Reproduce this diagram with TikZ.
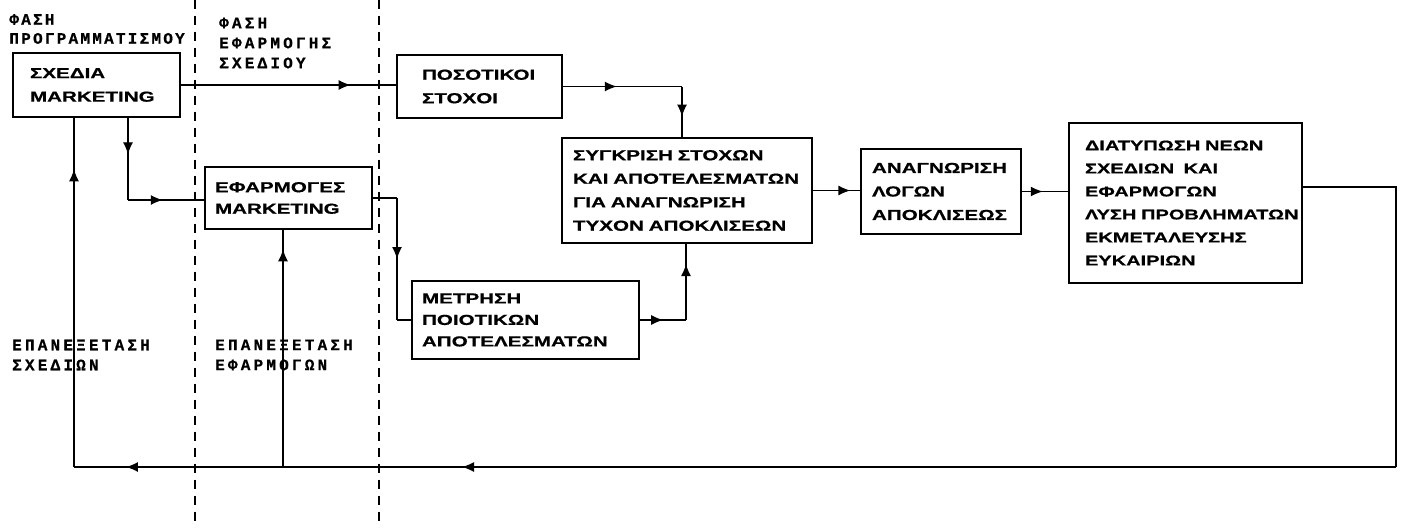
\documentclass[tikz,border=0pt]{standalone}
\usepackage{fontspec}
\usetikzlibrary{arrows.meta,decorations.markings}
\newfontfamily\bxf[FakeStretch=1.42,FakeBold=0.6]{Liberation Sans}
\newfontfamily\dotf[LetterSpace=20,FakeBold=0.5]{Liberation Mono}
\newfontfamily\dotfs[LetterSpace=14,FakeBold=0.5]{Liberation Mono}
\begin{document}
\begin{tikzpicture}[x=1pt,y=-1pt,
  box/.style={draw,line width=2.8pt,inner sep=0pt,align=left,
    font=\bxf\bfseries\fontsize{14.5}{23.5}\selectfont},
  lbl/.style={inner sep=0pt,align=left,font=\dotf\bfseries\fontsize{16}{20}\selectfont},
  conn/.style={line width=1.3pt},
  phase/.style={line width=1.2pt,dash pattern=on 9pt off 7pt},
  marr/.style={postaction={decorate},decoration={markings,
    mark=at position #1 with {\arrow{Latex[length=12pt,width=10pt]}}}},
  marrr/.style 2 args={postaction={decorate},decoration={markings,
    mark=at position #1 with {\arrow{Latex[length=12pt,width=10pt]}},
    mark=at position #2 with {\arrow{Latex[length=12pt,width=10pt]}}}}
]
\clip (0,0) rectangle (1402,528);
\fill[white] (0,0) rectangle (1402,528);

% phase separators
\coordinate (d1t) at (195,0); \coordinate (d1b) at (195,528);
\coordinate (d2t) at (379,0); \coordinate (d2b) at (379,528);
\draw[phase] (d1t) -- (d1b);
\draw[phase] (d2t) -- (d2b);

% phase labels
\node[lbl,anchor=east,font=\dotfs\bfseries\fontsize{16}{19}\selectfont] (ph1) at (185,29) {ΦΑΣΗ\\ΠΡΟΓΡΑΜΜΑΤΙΣΜΟΥ};
\node[lbl,anchor=west] (ph2) at (219,43) {ΦΑΣΗ\\ΕΦΑΡΜΟΓΗΣ\\ΣΧΕΔΙΟΥ};

% boxes
\node[box,minimum width=167pt,minimum height=64pt,text width=133pt] (sx) at (96.5,85) {ΣΧΕΔΙΑ\\MARKETING};
\node[box,minimum width=165pt,minimum height=63pt,text width=115pt] (pos) at (479.5,86.5) {ΠΟΣΟΤΙΚΟΙ\\ΣΤΟΧΟΙ};
\node[box,minimum width=250pt,minimum height=105pt,text width=228pt] (syg) at (687,190.5)
  {\mbox{ΣΥΓΚΡΙΣΗ ΣΤΟΧΩΝ}\\\mbox{ΚΑΙ ΑΠΟΤΕΛΕΣΜΑΤΩΝ}\\\mbox{ΓΙΑ ΑΝΑΓΝΩΡΙΣΗ}\\\mbox{ΤΥΧΟΝ ΑΠΟΚΛΙΣΕΩΝ}};
\node[box,minimum width=160pt,minimum height=85pt,text width=138pt] (anag) at (941,191.5)
  {ΑΝΑΓΝΩΡΙΣΗ\\ΛΟΓΩΝ\\ΑΠΟΚΛΙΣΕΩΣ};
\node[box,minimum width=233pt,minimum height=160pt,text width=201pt,
  font=\bxf\bfseries\fontsize{14.1}{23}\selectfont] (diat) at (1185.5,203)
  {\mbox{ΔΙΑΤΥΠΩΣΗ ΝΕΩΝ}\\\mbox{ΣΧΕΔΙΩΝ\ \ ΚΑΙ}\\ΕΦΑΡΜΟΓΩΝ\\\mbox{ΛΥΣΗ ΠΡΟΒΛΗΜΑΤΩΝ}\\ΕΚΜΕΤΑΛΕΥΣΗΣ\\ΕΥΚΑΙΡΙΩΝ};
\node[box,minimum width=167pt,minimum height=62pt,text width=147pt,
  font=\bxf\bfseries\fontsize{14.5}{21.5}\selectfont] (ef) at (288.5,198) {ΕΦΑΡΜΟΓΕΣ\\MARKETING};
\node[box,minimum width=227pt,minimum height=78pt,text width=207pt,
  font=\bxf\bfseries\fontsize{14.5}{21.5}\selectfont] (met) at (525.5,320)
  {ΜΕΤΡΗΣΗ\\ΠΟΙΟΤΙΚΩΝ\\ΑΠΟΤΕΛΕΣΜΑΤΩΝ};

% feedback labels
\node[lbl,anchor=west] (fb1) at (12,355) {ΕΠΑΝΕΞΕΤΑΣΗ\\ΣΧΕΔΙΩΝ};
\node[lbl,anchor=west] (fb2) at (215,355) {ΕΠΑΝΕΞΕΤΑΣΗ\\ΕΦΑΡΜΟΓΩΝ};

% coordinates
\coordinate (k2) at (682,86.5);
\coordinate (k7) at (128,200);
\coordinate (k8) at (397,198);
\coordinate (k9) at (686,320);
\coordinate (r1) at (1396,187);
\coordinate (r2) at (1396,467);
\coordinate (b1) at (74,467);
\coordinate (b2) at (283,467);

% connectors
\draw[conn,marr=0.79] (sx.east) -- (sx.east -| pos.west);
\draw[conn,marr=0.45] (pos.east) -- (k2);
\draw[conn,marr=0.6] (k2) -- (k2 |- syg.north);
\draw[conn,marr=0.8] (syg.east) -- (syg.east -| anag.west);
\draw[conn,marr=0.45] (anag.east) -- (anag.east -| diat.west);
\draw[conn] (r1 -| diat.east) -- (r1) -- (r2);
\draw[conn,marrr={0.7065}{0.9607}] (r2) -- (b1);
\draw[conn,marr=0.854] (b1) -- (b1 |- sx.south);
\draw[conn,marr=0.92] (b2) -- (b2 |- ef.south);
\draw[conn,marr=0.44] (k7 |- sx.south) -- (k7);
\draw[conn,marr=0.46] (k7) -- (k7 -| ef.west);
\draw[conn] (ef.east) -- (k8);
\draw[conn,marr=0.5] (k8) -- (k8 |- met.west);
\draw[conn] (k8 |- met.west) -- (met.west);
\draw[conn,marr=0.5] (met.east) -- (k9);
\draw[conn,marr=0.74] (k9) -- (k9 |- syg.south);
\end{tikzpicture}
\end{document}
